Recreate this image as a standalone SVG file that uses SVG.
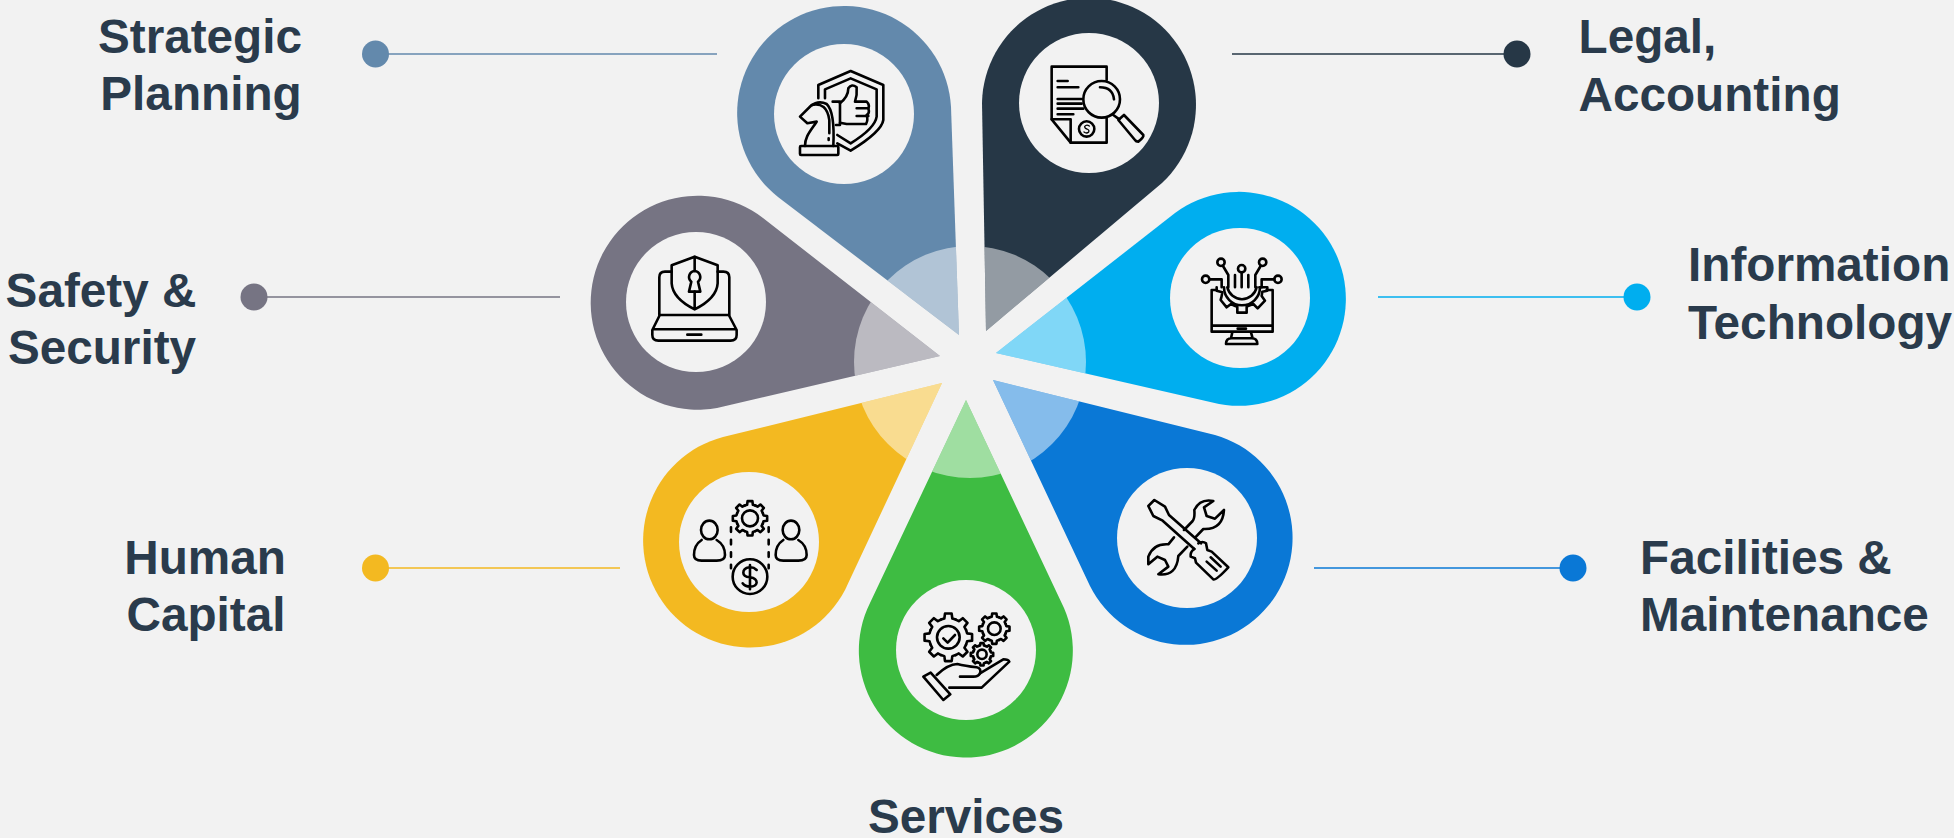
<svg xmlns="http://www.w3.org/2000/svg" xmlns:xlink="http://www.w3.org/1999/xlink" width="1954" height="838" viewBox="0 0 1954 838">
<style>
text{font-family:"Liberation Sans",Arial,sans-serif;font-weight:700;font-size:47.7px;fill:#2A3B4C}
.c{text-anchor:middle}
.hole{fill:#F2F2F2}
.ic,.ic *,#tooth{fill:none;stroke:#000;stroke-width:2.6;stroke-linejoin:round;stroke-linecap:round;vector-effect:non-scaling-stroke}
.ln{stroke-width:1.3;fill:none}
</style>
<defs>
<path id="tooth" d="M73.9,-30.6 L78.3,-16.6 L99,-13.9 L99,13.9 L78.3,16.6 L73.9,30.6"/>
<g id="gear"><use href="#tooth"/><use href="#tooth" transform="rotate(45)"/><use href="#tooth" transform="rotate(90)"/><use href="#tooth" transform="rotate(135)"/><use href="#tooth" transform="rotate(180)"/><use href="#tooth" transform="rotate(225)"/><use href="#tooth" transform="rotate(270)"/><use href="#tooth" transform="rotate(315)"/></g>
<path id="p1" d="M778,197 A107,107 0 1 1 951,107 L959,335 Z"/>
<path id="p2" d="M982,103 A107,107 0 1 1 1162,183 L986,331 Z"/>
<path id="p3" d="M1175,213 A107,107 0 1 1 1219,404 L996,353 Z"/>
<path id="p4" d="M1215,435 A107,107 0 1 1 1090,586 L993,380 Z"/>
<path id="p5" d="M1064,608 A107,107 0 1 1 870,603 L966,400 Z"/>
<path id="p6" d="M845,590 A107,107 0 1 1 723,437 L942,383 Z"/>
<path id="p7" d="M717,408 A107,107 0 1 1 763,218 L940,356 Z"/>
<clipPath id="allp"><use href="#p1"/><use href="#p2"/><use href="#p3"/><use href="#p4"/><use href="#p5"/><use href="#p6"/><use href="#p7"/></clipPath>
</defs>
<rect width="1954" height="838" fill="#F2F2F2"/>
<g id="connectors">
<path class="ln" stroke="#6389AC" d="M375,54 H717"/><circle cx="375.500" cy="54" r="13.500" fill="#6389AC"/>
<path class="ln" stroke="#263746" d="M1232,54 H1517"/><circle cx="1517" cy="54" r="13.500" fill="#263746"/>
<path class="ln" stroke="#00AEEF" d="M1378,297 H1637"/><circle cx="1637" cy="297" r="13.500" fill="#00AEEF"/>
<path class="ln" stroke="#0A78D6" d="M1314,568 H1573"/><circle cx="1573" cy="568" r="13.500" fill="#0A78D6"/>
<path class="ln" stroke="#F3B921" d="M376,568 H620"/><circle cx="375.500" cy="568" r="13.500" fill="#F3B921"/>
<path class="ln" stroke="#767483" d="M254,297 H560"/><circle cx="254" cy="297" r="13.500" fill="#767483"/>
</g>
<g id="node-strategic">
<use href="#p1" fill="#6389AC"/><circle class="hole" cx="844" cy="114" r="70"/>
<g class="ic" transform="translate(720,0) scale(.3333)">
<path d="M295,295 V255 L392,213 L490,255 V360 Q485,395 392,452 L352,430"/>
<path d="M315,295 V268 L392,235 L470,268 V350 Q465,385 392,430 L352,405"/>
<path d="M338,305 H360 V375 H348"/>
<path d="M360,310 Q385,290 385,265 Q395,250 410,262 Q412,285 405,305 H440 Q450,315 445,325 Q450,340 440,345 Q445,360 438,372 H380 L360,368"/>
<path d="M410,325 H445 M410,348 H445"/>
<rect x="240" y="438" width="115" height="27" rx="3"/>
<path d="M255,438 C255,410 270,395 290,365 L262,370 L240,350 L272,318 Q295,300 320,312 Q345,335 340,438"/>
<path d="M275,315 Q320,305 328,360 V400 M326,415 V420"/>
</g>
<text class="c" x="200" y="53">Strategic</text><text class="c" x="201" y="110">Planning</text>
</g>
<g id="node-legal">
<use href="#p2" fill="#263746"/><circle class="hole" cx="1089" cy="103" r="70"/>
<g class="ic" transform="translate(980,0) scale(.3333)">
<path d="M380,240 V200 H215 V358 L272,428 H380 V355"/>
<path d="M215,358 H272 V428"/>
<path d="M233,243 H263 M233,262 H295 M233,297 H305 M233,311 H305 M233,326 H310 M233,343 H280"/>
<circle cx="320" cy="387" r="23"/>
<path d="M328,378 Q320,372 314,379 Q314,386 321,387 Q329,390 326,396 Q320,402 312,396" style="stroke-width:1.3"/>
<circle cx="365" cy="298" r="55"/>
<path d="M360,262 Q398,262 402,298"/>
<path d="M400,345 L418,358"/>
<path d="M415,360 L432,345 L490,405 Q492,412 475,425 Q468,425 465,420 Z"/>
</g>
<text x="1578.500" y="53">Legal,</text><text x="1578.500" y="111">Accounting</text>
</g>
<g id="node-it">
<use href="#p3" fill="#00AEEF"/><circle class="hole" cx="1240" cy="298" r="70"/>
<g class="ic" transform="translate(1150,200) scale(.3333)">
<path d="M200,270 H185 V395 H368 V270 H350 M185,377 H368 M263,386 H288"/>
<path d="M247,397 L243,415 M303,397 L308,415 M228,432 Q228,415 245,415 H305 Q322,415 322,432 Z"/>
<path d="M200,262 V272 L217,277 Q215,290 212,300 L230,322 L243,312 Q255,318 262,320 V338 H290 V320 L310,312 L323,325 L345,302 L335,288 L337,275 L352,272 V262 H328"/>
<path d="M232,262 A45,45 0 0 0 320,262 M222,262 A54,54 0 0 0 330,262"/>
<path d="M255,225 V262 M295,225 V262 M275,218 V262 M219,198 L235,225 V262 M332,198 L316,225 V262 M178,238 H215 V262 M373,238 H335 V262"/>
<circle cx="275" cy="206" r="11"/><circle cx="213" cy="187" r="11"/><circle cx="338" cy="187" r="11"/><circle cx="167" cy="238" r="11"/><circle cx="384" cy="238" r="11"/>
</g>
<text x="1688" y="281">Information</text><text x="1688" y="339">Technology</text>
</g>
<g id="node-facilities">
<use href="#p4" fill="#0A78D6"/><circle class="hole" cx="1187" cy="538" r="70"/>
<g class="ic" transform="translate(1100,450) scale(.3333)">
<path d="M283,297 L188,212 L160,198 L145,168 L163,150 L195,170 L207,195 L303,280"/>
<path d="M283,297 Q270,305 272,320 L285,325 L288,338 L340,388 Q348,392 385,352 L335,305 L322,300 L318,280 Q308,272 295,280"/>
<path d="M320,335 L350,362 M332,322 L362,350"/>
<path d="M252,240 L278,213 Q285,205 283,180 Q300,145 340,153 L312,172 L320,198 L345,206 L372,180 Q368,240 310,237 L286,262"/>
<path d="M222,262 L205,283 Q160,280 145,320 V343 L172,320 L195,330 L205,350 L175,373 Q230,380 235,318 L262,290"/>
</g>
<text x="1640" y="574">Facilities &amp;</text><text x="1640" y="631">Maintenance</text>
</g>
<g id="node-services">
<use href="#p5" fill="#3EBC42"/><circle class="hole" cx="966" cy="650" r="70"/>
<g class="ic" transform="translate(870,560) scale(.3333)">
<use href="#gear" transform="translate(235,232) scale(.72)"/><circle cx="235" cy="232" r="34"/>
<path d="M220,235 L233,248 L255,225"/>
<use href="#gear" transform="translate(373,206) scale(.46)"/><circle cx="373" cy="206" r="19"/>
<use href="#gear" transform="translate(336,283) scale(.34)"/><circle cx="336" cy="283" r="14"/>
<path d="M160,350 L182,338 L241,403 L220,420 Z"/>
<path d="M200,345 Q235,312 262,312 Q285,318 320,322 Q335,325 330,340 Q325,350 310,350 H270"/>
<path d="M330,340 L400,298 Q415,298 418,305 L335,383 H238"/>
</g>
<text class="c" x="966" y="833">Services</text>
</g>
<g id="node-human">
<use href="#p6" fill="#F3B921"/><circle class="hole" cx="749" cy="542" r="70"/>
<g class="ic" transform="translate(660,450) scale(.3333)">
<use href="#gear" transform="translate(270,205) scale(.52)"/><circle cx="270" cy="205" r="24"/>
<circle cx="270" cy="380" r="52"/>
<path d="M290,360 Q280,350 268,352 Q250,355 250,368 Q250,380 270,382 Q290,385 290,398 Q288,410 270,410 Q255,410 248,400 M270,345 V418"/>
<path d="M213,232 V355 M326,232 V355" stroke-dasharray="4.500 8"/>
<ellipse cx="148" cy="240" rx="25" ry="28"/>
<path d="M125,270 Q102,285 102,315 Q102,332 125,332 H170 Q195,332 195,315 Q195,285 170,270"/>
<ellipse cx="393" cy="240" rx="25" ry="28"/>
<path d="M370,270 Q347,285 347,315 Q347,332 370,332 H415 Q440,332 440,315 Q440,285 415,270"/>
</g>
<text class="c" x="205" y="574">Human</text><text class="c" x="206" y="631">Capital</text>
</g>
<g id="node-safety">
<use href="#p7" fill="#767483"/><circle class="hole" cx="696" cy="302" r="70"/>
<g class="ic" transform="translate(600,190) scale(.3333)">
<path d="M215,245 H195 Q178,245 178,262 V375 H388 V262 Q388,245 370,245 H353"/>
<path d="M178,378 L157,420 V435 Q157,452 175,452 H392 Q410,452 410,435 V420 L388,378 M160,418 H407 M262,434 H304"/>
<path d="M284,200 L353,226 V280 Q350,325 284,358 Q218,325 215,280 V226 Z M284,200 V240 M284,305 V358"/>
<path d="M284,243 a18,18 0 0 1 10,32 L301,305 H267 L274,275 a18,18 0 0 1 10,-32Z"/>
</g>
<text class="c" x="101" y="307">Safety &amp;</text><text class="c" x="102" y="364">Security</text>
</g>
<circle id="hub" cx="970" cy="362" r="116" fill="#fff" fill-opacity=".5" clip-path="url(#allp)"/>
</svg>
